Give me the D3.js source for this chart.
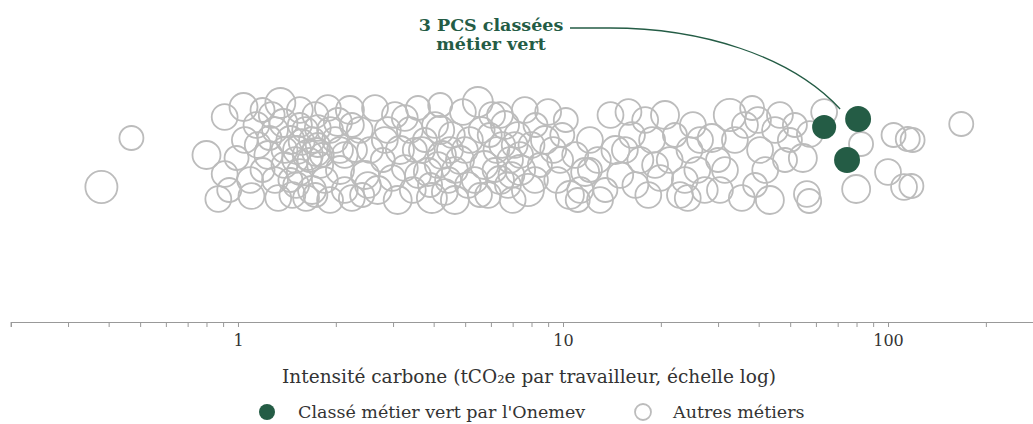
<!DOCTYPE html>
<html>
<head>
<meta charset="utf-8">
<script src="https://cdn.jsdelivr.net/npm/d3@7"></script>
<style>
  body { margin: 0; background: #fff; }
  svg { font-family: "DejaVu Serif", serif; }
</style>
</head>
<body>
<svg width="1033" height="424"></svg>
<script>
// intensite carbone (tCO2e par travailleur), ecart vertical (jitter) et effectif (milliers)
var intensite = [0.38,0.47,0.80,0.87,0.91,0.91,1.04,1.05,0.99,1.09,1.10,1.14,1.19,
    1.24,1.25,1.30,1.35,1.38,1.39,1.45,1.47,1.52,1.55,1.61,1.64,1.69,1.73,1.76,1.79,1.85,1.89,1.92,1.66,1.57,1.50,1.74,1.33,1.19,1.55,1.76,1.45,1.62,
    1.99,2.03,2.06,2.13,2.21,2.29,2.24,2.37,2.46,2.55,2.64,2.69,2.79,2.89,2.98,3.10,3.04,3.15,2.13,2.41,
    3.26,3.38,3.45,3.58,3.68,3.84,3.95,4.04,4.19,4.24,4.43,4.55,4.65,4.82,4.92,5.10,5.17,4.12,3.76,4.33,3.90,
    5.47,5.62,5.73,5.88,6.05,6.24,6.40,6.63,6.87,7.00,7.24,7.38,7.63,7.80,8.00,8.23,8.49,7.10,6.16,6.77,7.38,
    9.0,9.33,9.6,9.95,10.5,10.9,11.3,11.7,12.1,12.8,13.5,14.0,14.5,15.0,13.0,10.2,11.1,
    15.9,16.3,16.7,17.3,17.9,18.3,18.8,19.9,20.6,21.3,22.1,22.9,23.7,24.5,25.1,25.9,24.2,
    27.3,28.7,30.0,31.5,32.6,33.8,35.5,36.3,38.2,39.8,40.4,41.9,43.3,44.9,46.5,48.2,49.9,39.0,51.7,
    54.7,56.3,57.2,57.5,63.6,79.8,82.6,
    100,104,115,119,112,118,168,
    1.39,1.55,1.69,1.81,1.51,1.30,6.5,6.94,5.95,4.49,3.5,
    2.06,2.24,2.51,2.83,3.26,3.58,4.19,4.65,4.99,5.35,5.55,6.40,8.20,8.80,9.80,12.1,15.5,19.2,26.4,30.4,0.94,1.15,1.27,1.73,1.92];
var ecart = [-32,17,0,-44,-19,38,48,15,-3,-25,-41,30,45,
    0,17,-25,52,32,-10,15,-40,5,-17,25,0,-35,40,10,-10,-25,47,-45,-5,13,-5,3,-43,-15,45,27,-25,-43,
    15,33,-15,-35,45,5,-43,25,-20,5,47,-35,-5,25,-23,-45,40,5,0,-40,
    -13,25,-35,47,5,-17,-43,30,50,0,-25,20,-45,-5,43,-30,15,-10,15,-37,-30,
    53,25,-10,-40,40,5,-25,30,-5,-45,20,-15,45,-35,10,30,-10,10,-15,-30,0,
    43,5,-25,20,-40,0,-35,-17,15,-5,-35,40,5,-20,-45,35,-45,
    43,20,-30,-5,35,-40,15,-23,40,-5,20,-40,-25,5,30,-15,-43,
    -35,17,-5,-15,40,15,-43,30,47,35,5,-15,-45,25,40,-5,15,-30,30,
    -3,-39,-46,21,43,-34,11,
    -17,20,16,15,-32,-31,31,
    5,30,15,0,-30,25,10,-20,20,5,5,
    5,30,-30,15,37,-20,25,-15,5,-25,-40,40,-25,15,-5,-15,5,-10,15,-35,-35,10,40,-40,25];
var effectif = [89,50,68,58,58,58,68,58,50,58,58,58,50,
    68,50,58,78,68,58,68,58,68,58,58,78,68,58,50,58,58,58,58,50,58,58,68,58,50,58,58,50,58,
    58,68,68,58,68,50,58,58,68,58,58,68,50,58,58,68,58,68,58,50,
    58,58,58,50,58,68,78,58,50,68,58,58,68,68,58,58,58,58,50,58,50,
    78,58,68,58,58,58,68,68,58,58,58,78,58,89,58,50,50,58,50,58,58,
    58,58,58,50,68,58,58,68,58,58,50,58,68,58,58,50,50,
    58,58,58,58,58,58,58,58,68,58,50,58,58,58,58,58,58,
    58,68,50,58,89,58,58,58,50,58,58,58,68,58,58,50,50,50,50,
    68,58,50,58,58,68,50,
    58,50,50,50,58,50,50,
    58,50,58,50,58,58,58,58,50,58,50,
    58,50,58,58,58,58,68,58,58,58,50,58,58,68,58,50,58,58,58,58,50,58,58,50,58];

// les 3 PCS classees metier vert par l'Onemev
var intensiteVert = [63.6, 80.9, 74.8];
var ecartVert = [28, 36, -5];
var effectifVert = [50, 58, 58];

var tickLabels = [1, 10, 100];

var green = "#245c45";
var grey = "#bcbcbc";

var svg = d3.select("svg");

var x = d3.scaleLog()
    .domain([0.2, 300])
    .range([10.8, 1043.1]);
var y = d3.scaleLinear()
    .domain([-60, 60])
    .range([215, 95]);
var r = d3.scaleSqrt()
    .domain([0, 100])
    .range([0, 17]);

var autres = intensite.map(function (d, i) { return {v: d, e: ecart[i], n: effectif[i]}; });
var verts = intensiteVert.map(function (d, i) { return {v: d, e: ecartVert[i], n: effectifVert[i]}; });

// axe
var axisY = 322;
var x_axis = d3.axisBottom(x)
    .tickValues(x.ticks())
    .tickSizeOuter(0)
    .tickSize(5)
    .tickPadding(8)
    .tickFormat(function (d) { return tickLabels.indexOf(d) >= 0 ? d : ""; });

var gAxis = svg.append("g")
    .attr("transform", `translate(0, ${axisY})`)
    .call(x_axis);
gAxis.select(".domain").attr("stroke", "#999").attr("stroke-width", 1.2);
gAxis.selectAll(".tick line").attr("stroke", "#999");
gAxis.selectAll(".tick text")
    .attr("fill", "#333")
    .style("font-family", "DejaVu Serif")
    .style("font-size", "16px");

svg.append("text")
    .attr("x", 529)
    .attr("y", 383)
    .attr("text-anchor", "middle")
    .attr("fill", "#333")
    .style("font-size", "18.5px")
    .text("Intensité carbone (tCO₂e par travailleur, échelle log)");

// bulles
svg.append("g").selectAll("circle")
    .data(autres)
    .enter()
    .append("circle")
    .attr("cx", function (d) { return x(d.v); })
    .attr("cy", function (d) { return y(d.e); })
    .attr("r", function (d) { return r(d.n); })
    .attr("fill", "none")
    .attr("stroke", grey)
    .attr("stroke-width", 1.8);

svg.append("g").selectAll("circle")
    .data(verts)
    .enter()
    .append("circle")
    .attr("cx", function (d) { return x(d.v); })
    .attr("cy", function (d) { return y(d.e); })
    .attr("r", function (d) { return r(d.n); })
    .attr("fill", green);

// annotation
var ann = svg.append("g");
ann.append("text")
    .attr("x", 491)
    .attr("y", 31)
    .attr("text-anchor", "middle")
    .attr("fill", green)
    .style("font-weight", "bold")
    .style("font-size", "17.5px")
    .text("3 PCS classées");
ann.append("text")
    .attr("x", 491)
    .attr("y", 50)
    .attr("text-anchor", "middle")
    .attr("fill", green)
    .style("font-weight", "bold")
    .style("font-size", "17.5px")
    .text("métier vert");

var cible = verts[1];
var tx = x(cible.v) - 18, ty = y(cible.e) - 10;
ann.append("path")
    .attr("d", `M570,28 L610,28 C700,28 ${tx - 50},55 ${tx},${ty}`)
    .attr("fill", "none")
    .attr("stroke", green)
    .attr("stroke-width", 1.3);

// legende
var leg = svg.append("g").attr("transform", "translate(0, 412)");
leg.append("circle").attr("cx", 267).attr("cy", 0).attr("r", 8).attr("fill", green);
leg.append("text").attr("x", 298).attr("y", 6).attr("fill", "#333")
    .style("font-size", "17.5px").text("Classé métier vert par l'Onemev");
leg.append("circle").attr("cx", 643).attr("cy", 0).attr("r", 8)
    .attr("fill", "none").attr("stroke", grey).attr("stroke-width", 1.8);
leg.append("text").attr("x", 673).attr("y", 6).attr("fill", "#333")
    .style("font-size", "17.5px").text("Autres métiers");
</script>
</body>
</html>
